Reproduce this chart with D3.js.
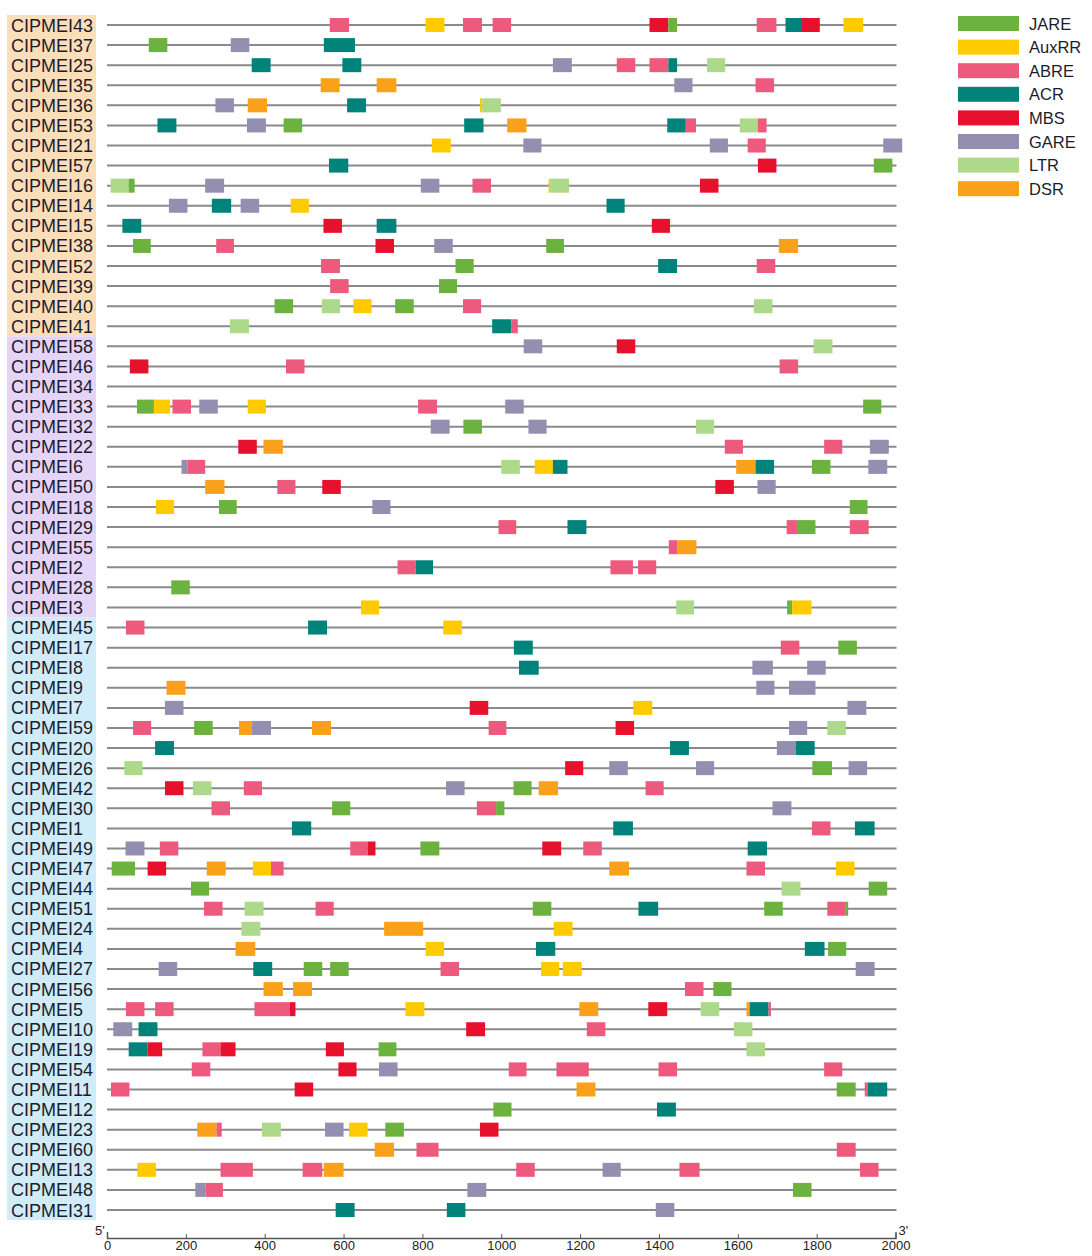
<!DOCTYPE html>
<html>
<head>
<meta charset="utf-8">
<script src="https://cdn.jsdelivr.net/npm/d3@7"></script>
<style>
  body { margin: 0; background: #fff; }
  svg { display: block; font-family: "Liberation Sans", Arial, sans-serif; }
</style>
</head>
<body>
<svg id="chart" width="1092" height="1256"></svg>
<script>
// promoter cis-elements per gene, positions in bp from 5' end
var motifs = ["JARE", "AuxRR", "ABRE", "ACR", "MBS", "GARE", "LTR", "DSR"];
var motifColors = ["#6cb23e", "#fecb00", "#ee5a7e", "#00837a", "#e8112d", "#948fb0", "#acd98a", "#f9a11b"];

var genes = ["CIPMEI43", "CIPMEI37", "CIPMEI25", "CIPMEI35", "CIPMEI36", "CIPMEI53", "CIPMEI21", "CIPMEI57",
  "CIPMEI16", "CIPMEI14", "CIPMEI15", "CIPMEI38", "CIPMEI52", "CIPMEI39", "CIPMEI40", "CIPMEI41",
  "CIPMEI58", "CIPMEI46", "CIPMEI34", "CIPMEI33", "CIPMEI32", "CIPMEI22", "CIPMEI6", "CIPMEI50",
  "CIPMEI18", "CIPMEI29", "CIPMEI55", "CIPMEI2", "CIPMEI28", "CIPMEI3",
  "CIPMEI45", "CIPMEI17", "CIPMEI8", "CIPMEI9", "CIPMEI7", "CIPMEI59", "CIPMEI20", "CIPMEI26",
  "CIPMEI42", "CIPMEI30", "CIPMEI1", "CIPMEI49", "CIPMEI47", "CIPMEI44", "CIPMEI51", "CIPMEI24",
  "CIPMEI4", "CIPMEI27", "CIPMEI56", "CIPMEI5", "CIPMEI10", "CIPMEI19", "CIPMEI54", "CIPMEI11",
  "CIPMEI12", "CIPMEI23", "CIPMEI60", "CIPMEI13", "CIPMEI48", "CIPMEI31"];

// number of genes in each coloured label group, top to bottom
var groupSizes = [16, 14, 30];
var groupColors = ["#fcdeb9", "#e4d4f7", "#cfecf8"];

var ticks = [0, 200, 400, 600, 800, 1000, 1200, 1400, 1600, 1800, 2000];

// [motif, start, end] for each gene, same order as genes
var sites = [
  [["ABRE",565,614],["AuxRR",808,856],["ABRE",903,951],["ABRE",978,1025],["MBS",1376,1424],["JARE",1424,1446],["ABRE",1648,1698],["ACR",1721,1765],["MBS",1762,1808],["AuxRR",1868,1918]],
  [["JARE",106,153],["GARE",314,361],["ACR",550,629]],
  [["ACR",367,415],["ACR",597,645],["GARE",1131,1179],["ABRE",1293,1340],["ABRE",1376,1424],["ACR",1424,1446],["LTR",1522,1568]],
  [["DSR",542,590],["DSR",684,734],["GARE",1439,1485],["ABRE",1645,1692]],
  [["GARE",275,322],["DSR",357,406],["ACR",609,657],["AuxRR",946,952],["LTR",952,999]],
  [["ACR",128,176],["GARE",355,403],["JARE",448,495],["ACR",906,955],["DSR",1015,1064],["ACR",1421,1468],["ABRE",1468,1494],["LTR",1605,1651],["ABRE",1651,1673]],
  [["AuxRR",824,872],["GARE",1056,1102],["GARE",1529,1575],["ABRE",1625,1671],["GARE",1969,2017]],
  [["ACR",563,612],["MBS",1651,1698],["JARE",1945,1992]],
  [["LTR",9,55],["JARE",55,70],["GARE",249,297],["GARE",796,843],["ABRE",927,974],["AuxRR",1120,1124],["LTR",1124,1172],["MBS",1504,1551]],
  [["GARE",157,204],["ACR",266,315],["GARE",339,386],["AuxRR",466,512],["ACR",1267,1313]],
  [["ACR",39,87],["MBS",549,596],["ACR",684,734],["MBS",1382,1428]],
  [["JARE",66,111],["ABRE",277,322],["MBS",681,728],["GARE",830,877],["JARE",1114,1159],["DSR",1704,1753]],
  [["ABRE",543,591],["JARE",884,930],["ACR",1398,1446],["ABRE",1648,1695]],
  [["ABRE",566,613],["JARE",842,888]],
  [["JARE",425,472],["LTR",545,591],["AuxRR",625,671],["JARE",731,778],["ABRE",903,949],["LTR",1641,1688]],
  [["LTR",312,360],["ACR",977,1026],["ABRE",1026,1042]],
  [["GARE",1057,1104],["MBS",1293,1340],["LTR",1792,1840]],
  [["MBS",58,105],["ABRE",454,501],["ABRE",1706,1753]],
  [],
  [["JARE",76,119],["AuxRR",119,160],["ABRE",166,213],["GARE",234,281],["AuxRR",357,403],["ABRE",789,837],["GARE",1010,1057],["JARE",1918,1964]],
  [["GARE",821,869],["JARE",904,951],["GARE",1069,1115],["LTR",1494,1540]],
  [["MBS",333,380],["DSR",397,446],["ABRE",1567,1613],["ABRE",1819,1865],["GARE",1935,1983]],
  [["GARE",189,204],["ABRE",204,249],["LTR",1000,1047],["AuxRR",1085,1131],["ACR",1131,1168],["DSR",1596,1645],["ACR",1645,1692],["JARE",1788,1835],["GARE",1931,1979]],
  [["DSR",249,298],["ABRE",432,478],["MBS",546,593],["MBS",1543,1590],["GARE",1650,1696]],
  [["AuxRR",124,170],["JARE",284,329],["GARE",673,719],["JARE",1884,1929]],
  [["ABRE",993,1038],["ACR",1168,1216],["ABRE",1724,1750],["JARE",1750,1797],["ABRE",1884,1932]],
  [["ABRE",1425,1446],["DSR",1446,1495]],
  [["ABRE",737,783],["ACR",783,827],["ABRE",1277,1334],["ABRE",1347,1393]],
  [["JARE",163,210]],
  [["AuxRR",644,690],["LTR",1444,1489],["JARE",1725,1738],["AuxRR",1738,1787]],
  [["ABRE",48,95],["ACR",510,558],["AuxRR",853,900]],
  [["ACR",1032,1080],["ABRE",1709,1756],["JARE",1855,1902]],
  [["ACR",1045,1095],["GARE",1637,1689],["GARE",1776,1823]],
  [["DSR",151,199],["GARE",1647,1693],["GARE",1730,1797]],
  [["GARE",147,194],["MBS",920,967],["AuxRR",1335,1383],["GARE",1878,1926]],
  [["ABRE",66,112],["JARE",221,268],["DSR",335,368],["GARE",368,416],["DSR",520,568],["ABRE",968,1013],["MBS",1290,1337],["GARE",1730,1776],["LTR",1827,1874]],
  [["ACR",122,170],["ACR",1428,1476],["GARE",1699,1747],["ACR",1747,1795]],
  [["LTR",44,90],["MBS",1162,1208],["GARE",1274,1321],["GARE",1494,1540],["JARE",1789,1839],["GARE",1881,1928]],
  [["MBS",147,194],["LTR",218,265],["ABRE",347,393],["GARE",860,907],["JARE",1031,1077],["DSR",1095,1144],["ABRE",1366,1412]],
  [["ABRE",265,312],["JARE",571,617],["ABRE",938,987],["JARE",987,1008],["GARE",1688,1736]],
  [["ACR",469,518],["ACR",1284,1334],["ABRE",1788,1835],["ACR",1897,1947]],
  [["GARE",47,95],["ABRE",134,181],["ABRE",617,661],["MBS",661,681],["JARE",795,843],["MBS",1104,1152],["ABRE",1208,1255],["ACR",1625,1674]],
  [["JARE",12,71],["MBS",103,150],["DSR",253,301],["AuxRR",370,416],["ABRE",416,448],["DSR",1274,1324],["ABRE",1622,1669],["AuxRR",1849,1896]],
  [["JARE",213,259],["LTR",1711,1759],["JARE",1932,1979]],
  [["ABRE",246,293],["LTR",349,397],["ABRE",529,575],["JARE",1080,1127],["ACR",1348,1398],["JARE",1667,1714],["ABRE",1827,1874],["JARE",1874,1880]],
  [["LTR",341,389],["DSR",703,802],["AuxRR",1133,1181]],
  [["DSR",326,376],["AuxRR",808,855],["ACR",1088,1137],["ACR",1770,1820],["JARE",1829,1875]],
  [["GARE",131,178],["ACR",371,419],["JARE",499,546],["JARE",566,613],["ABRE",846,893],["AuxRR",1101,1147],["AuxRR",1156,1204],["GARE",1899,1947]],
  [["DSR",397,446],["DSR",472,520],["ABRE",1466,1513],["JARE",1538,1584]],
  [["ABRE",48,95],["ABRE",122,169],["ABRE",374,463],["MBS",463,478],["AuxRR",757,805],["DSR",1198,1246],["MBS",1373,1421],["LTR",1506,1553],["DSR",1622,1630],["ACR",1630,1678],["ABRE",1678,1684]],
  [["GARE",16,64],["ACR",80,128],["MBS",911,959],["ABRE",1217,1264],["LTR",1590,1637]],
  [["ACR",55,103],["MBS",103,140],["ABRE",242,288],["MBS",288,326],["MBS",555,601],["JARE",689,734],["LTR",1622,1669]],
  [["ABRE",215,262],["MBS",587,633],["GARE",690,737],["ABRE",1019,1064],["ABRE",1140,1222],["ABRE",1399,1446],["ABRE",1819,1865]],
  [["ABRE",10,57],["MBS",476,523],["DSR",1191,1239],["JARE",1851,1899],["ABRE",1922,1930],["ACR",1930,1979]],
  [["JARE",980,1026],["ACR",1395,1443]],
  [["DSR",229,278],["ABRE",278,291],["LTR",393,441],["GARE",553,600],["AuxRR",614,661],["JARE",706,753],["MBS",946,993]],
  [["DSR",679,728],["ABRE",785,841],["ABRE",1851,1899]],
  [["AuxRR",77,124],["ABRE",288,370],["ABRE",496,546],["DSR",550,600],["ABRE",1038,1085],["GARE",1257,1303],["ABRE",1452,1503],["ABRE",1910,1957]],
  [["GARE",224,250],["ABRE",250,294],["GARE",914,962],["JARE",1740,1787]],
  [["ACR",580,628],["ACR",862,909],["GARE",1392,1439]]
];

var svg = d3.select('#chart');

var x = d3.scaleLinear().domain([0, 2000]).range([107, 895.5]);
var y = d3.scalePoint().domain(genes).range([25, 1210]);
var color = d3.scaleOrdinal().domain(motifs).range(motifColors);
var rowStep = y.step();
var boxH = 14;

// label background bands
var groupStart = 0;
var bands = groupSizes.map(function(n, i) {
  var b = { first: genes[groupStart], last: genes[groupStart + n - 1], color: groupColors[i] };
  groupStart += n;
  return b;
});
svg.append('g').selectAll('rect')
  .data(bands)
  .enter().append('rect')
  .attr('x', 7)
  .attr('width', 89)
  .attr('y', function(d) { return y(d.first) - rowStep / 2; })
  .attr('height', function(d) { return y(d.last) - y(d.first) + rowStep; })
  .attr('fill', function(d) { return d.color; });

svg.append('g').selectAll('text')
  .data(genes)
  .enter().append('text')
  .attr('x', 11)
  .attr('y', function(d) { return y(d) + 6.5; })
  .attr('font-size', 18)
  .attr('fill', '#1c1c2c')
  .text(function(d) { return d; });

// gene promoter lines
svg.append('g').selectAll('line')
  .data(genes)
  .enter().append('line')
  .attr('x1', x(0))
  .attr('x2', x(2000) + 1)
  .attr('y1', function(d) { return y(d); })
  .attr('y2', function(d) { return y(d); })
  .attr('stroke', '#8a8a8a')
  .attr('stroke-width', 2);

// elements
var rows = svg.append('g').selectAll('g')
  .data(genes)
  .enter().append('g')
  .attr('transform', function(d) { return 'translate(0,' + y(d) + ')'; });

rows.selectAll('rect')
  .data(function(d, i) { return sites[i]; })
  .enter().append('rect')
  .attr('x', function(d) { return x(d[1]); })
  .attr('width', function(d) { return x(d[2]) - x(d[1]); })
  .attr('y', -boxH / 2)
  .attr('height', boxH)
  .attr('fill', function(d) { return color(d[0]); });

// axis
var axis = d3.axisBottom(x)
  .tickValues(ticks)
  .tickFormat(d3.format('d'))
  .tickSizeInner(-4)
  .tickSizeOuter(-6)
  .tickPadding(3);
var axisG = svg.append('g')
  .attr('transform', 'translate(0,1238)')
  .call(axis);
axisG.select('.domain').attr('stroke', '#555').attr('stroke-width', 1.5);
axisG.selectAll('.tick line').attr('stroke', '#555');
axisG.selectAll('.tick text')
  .attr('font-family', '"Liberation Sans", Arial, sans-serif')
  .attr('font-size', 13)
  .attr('fill', '#222');

svg.append('text').attr('x', x(0) - 12).attr('y', 1235)
  .attr('font-size', 13).attr('fill', '#222').text("5'");
svg.append('text').attr('x', x(2000) + 3).attr('y', 1235)
  .attr('font-size', 13).attr('fill', '#222').text("3'");

// legend
var legend = svg.append('g').selectAll('g')
  .data(motifs)
  .enter().append('g')
  .attr('transform', function(d, i) { return 'translate(958,' + (23.5 + i * 23.6) + ')'; });
legend.append('rect')
  .attr('x', 0).attr('y', -7.5)
  .attr('width', 61).attr('height', 15)
  .attr('fill', function(d) { return color(d); });
legend.append('text')
  .attr('x', 71).attr('y', 6)
  .attr('font-size', 16.5)
  .attr('fill', '#1c1c2c')
  .text(function(d) { return d; });
</script>
</body>
</html>
